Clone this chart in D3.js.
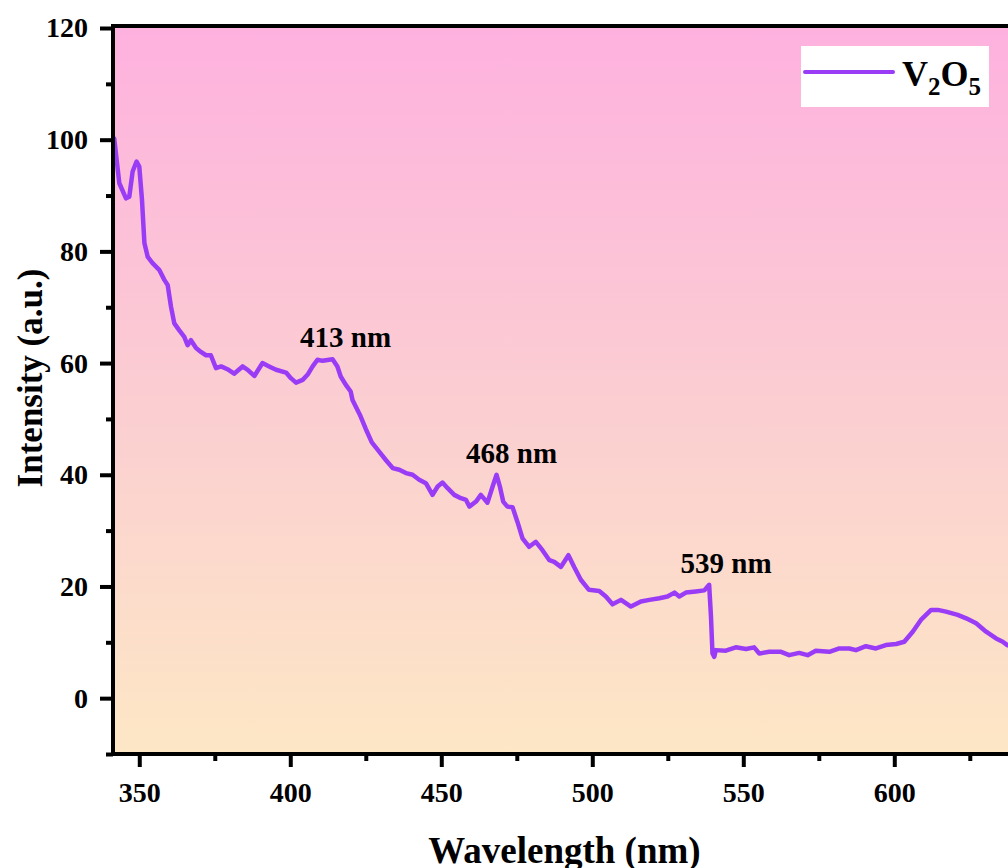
<!DOCTYPE html>
<html>
<head>
<meta charset="utf-8">
<script src="https://cdn.jsdelivr.net/npm/d3@7"></script>
<style>
  html, body { margin: 0; padding: 0; background: #ffffff; }
  svg { display: block; }
  text { font-family: "Liberation Serif", "Times New Roman", serif; font-weight: bold; fill: #000; }
</style>
</head>
<body>
<svg id="chart" width="1008" height="868"></svg>
<script>
// Absorbance spectrum of V2O5 (wavelength in nm, intensity in a.u.)
const wavelength = [
  341.7, 343.4, 345.6, 346.7, 347.8, 349.1, 350.0, 350.9, 351.7, 352.8,
  354.4, 356.6, 358.3, 359.4, 360.5, 361.6, 363.2, 364.9, 366.0, 367.1,
  368.8, 370.4, 372.1, 373.7, 375.4, 377.1, 379.2, 381.4, 384.2, 385.9,
  388.1, 390.8, 393.0, 395.3, 398.6, 400.2, 401.9, 404.1, 405.7, 407.4,
  409.0, 410.7, 412.9, 414.0, 415.6, 416.7, 418.4, 420.0, 420.6, 423.0,
  425.0, 427.0, 429.5, 431.7, 433.9, 436.1, 438.3, 440.5, 442.7, 444.9,
  447.1, 448.8, 450.4, 452.1, 454.3, 456.5, 458.2, 459.3, 461.5, 463.1,
  465.3, 467.0, 468.3, 469.4, 470.5, 471.9, 473.6, 475.2, 476.9, 479.1,
  481.3, 483.5, 485.8, 487.4, 489.6, 492.1, 494.0, 496.2, 498.9, 502.3,
  504.5, 506.7, 509.5, 512.8, 516.1, 518.9, 522.2, 524.9, 527.2, 528.8,
  531.0, 534.3, 537.1, 538.7, 539.3, 539.8, 540.4, 540.9, 544.2, 547.5,
  550.9, 553.6, 555.3, 558.6, 562.5, 565.2, 568.5, 571.3, 574.0, 578.5,
  581.8, 585.1, 587.3, 590.6, 593.9, 597.2, 600.6, 603.3, 606.1, 608.8,
  612.2, 614.4, 617.1, 621.0, 623.8, 627.1, 630.4, 633.7, 635.9, 637.4,
  639.5
];
const intensity = [
  100.2, 92.2, 89.5, 89.8, 94.3, 96.1, 95.2, 89.2, 81.5, 79.0,
  77.9, 76.7, 74.9, 74.0, 70.1, 67.1, 65.9, 64.7, 63.2, 64.1,
  62.7, 62.0, 61.4, 61.4, 59.1, 59.4, 58.9, 58.1, 59.4, 58.8,
  57.7, 60.0, 59.4, 58.8, 58.3, 57.3, 56.5, 57.0, 57.9, 59.4,
  60.6, 60.4, 60.6, 60.7, 59.4, 57.6, 56.1, 54.9, 53.4, 50.8,
  48.2, 45.8, 44.1, 42.6, 41.2, 40.9, 40.3, 40.0, 39.1, 38.5,
  36.4, 37.9, 38.6, 37.6, 36.4, 35.8, 35.5, 34.3, 35.2, 36.4,
  35.0, 37.9, 40.0, 37.9, 35.2, 34.3, 34.2, 31.6, 28.6, 27.1,
  28.0, 26.5, 24.7, 24.4, 23.5, 25.6, 23.5, 21.2, 19.4, 19.2,
  18.2, 16.8, 17.6, 16.4, 17.3, 17.6, 17.9, 18.2, 18.9, 18.2,
  18.9, 19.1, 19.3, 20.3, 14.6, 8.0, 7.4, 8.6, 8.5, 9.1,
  8.8, 9.1, 8.0, 8.3, 8.3, 7.7, 8.1, 7.7, 8.5, 8.3,
  8.9, 8.9, 8.6, 9.3, 8.9, 9.5, 9.7, 10.1, 11.9, 14.0,
  15.8, 15.8, 15.5, 14.9, 14.3, 13.4, 11.9, 10.7, 10.1, 9.5,
  9.2
];

// Marked absorption bands
const peakWavelengths = [413, 468, 539];
const peakIntensities = [60.7, 40.0, 20.3];
const peakLabels = ["413 nm", "468 nm", "539 nm"];

const xTicks = [350, 400, 450, 500, 550, 600];
const xMinorTicks = [375, 425, 475, 525, 575, 625];
const yTicks = [0, 20, 40, 60, 80, 100, 120];
const yMinorTicks = [-10, 10, 30, 50, 70, 90, 110];

const seriesName = ["V", "2", "O", "5"];
const xTitle = "Wavelength (nm)";
const yTitle = "Intensity (a.u.)";

const data = wavelength.map((w, i) => ({ w, v: intensity[i] }));

const plot = { left: 113, right: 1016, top: 27, bottom: 754 };
const x = d3.scaleLinear().domain([341.3, 640.3]).range([plot.left, plot.right]);
const y = d3.scaleLinear().domain([-10, 120]).range([plot.bottom, plot.top + 1]);

const svg = d3.select("#chart");
const defs = svg.append("defs");
const grad = defs.append("linearGradient")
  .attr("id", "bg").attr("x1", 0).attr("y1", 0).attr("x2", 0).attr("y2", 1);
grad.append("stop").attr("offset", "0%").attr("stop-color", "#feb1df");
grad.append("stop").attr("offset", "50%").attr("stop-color", "#fbcdd2");
grad.append("stop").attr("offset", "100%").attr("stop-color", "#fde7c5");

defs.append("clipPath").attr("id", "clip")
  .append("rect")
  .attr("x", plot.left).attr("y", plot.top)
  .attr("width", plot.right - plot.left).attr("height", plot.bottom - plot.top);

// plot background
svg.append("rect")
  .attr("x", plot.left).attr("y", plot.top)
  .attr("width", plot.right - plot.left).attr("height", plot.bottom - plot.top)
  .attr("fill", "url(#bg)");

// spectrum
const line = d3.line().x(d => x(d.w)).y(d => y(d.v));
svg.append("path")
  .datum(data)
  .attr("clip-path", "url(#clip)")
  .attr("fill", "none")
  .attr("stroke", "#9a3cf6")
  .attr("stroke-width", 4.5)
  .attr("stroke-linejoin", "round")
  .attr("stroke-linecap", "round")
  .attr("d", line);

// axes
const xAxis = d3.axisBottom(x).tickValues(xTicks).tickSize(13).tickPadding(15).tickFormat(d3.format("d"));
const xMinor = d3.axisBottom(x).tickValues(xMinorTicks).tickSize(7).tickFormat("");
const yAxis = d3.axisLeft(y).tickValues(yTicks).tickSize(13).tickPadding(12).tickFormat(d3.format("d"));
const yMinor = d3.axisLeft(y).tickValues(yMinorTicks).tickSize(7).tickFormat("");

function styleAxis(g) {
  g.select(".domain").remove();
  g.selectAll(".tick line").attr("stroke", "#000").attr("stroke-width", 4);
  g.selectAll(".tick text").style("font-size", "28px").attr("fill", "#000");
}

svg.append("g").attr("transform", `translate(0,${plot.bottom})`).call(xAxis).call(styleAxis);
svg.append("g").attr("transform", `translate(0,${plot.bottom})`).call(xMinor).call(styleAxis);
svg.append("g").attr("transform", `translate(${plot.left},0)`).call(yAxis).call(styleAxis);
svg.append("g").attr("transform", `translate(${plot.left},0)`).call(yMinor).call(styleAxis);

// frame
svg.append("rect")
  .attr("x", plot.left).attr("y", plot.top - 1)
  .attr("width", plot.right - plot.left).attr("height", plot.bottom - plot.top + 1)
  .attr("fill", "none").attr("stroke", "#000").attr("stroke-width", 4);

// axis titles
svg.append("text")
  .attr("x", (plot.left + plot.right) / 2).attr("y", 863)
  .attr("text-anchor", "middle").style("font-size", "37px")
  .text(xTitle);
svg.append("text")
  .attr("transform", `translate(42,378) rotate(-90)`)
  .attr("text-anchor", "middle").style("font-size", "35px")
  .text(yTitle);

// peak labels
svg.selectAll(".peak")
  .data(peakWavelengths)
  .join("text")
  .attr("class", "peak")
  .attr("x", (d) => x(d) + 16)
  .attr("y", (d, i) => y(peakIntensities[i]) - 12)
  .attr("text-anchor", "middle")
  .style("font-size", "29px")
  .text((d, i) => peakLabels[i]);

// legend
const lg = svg.append("g");
lg.append("rect").attr("x", 801).attr("y", 46).attr("width", 188).attr("height", 61).attr("fill", "#ffffff");
lg.append("line").attr("x1", 805).attr("x2", 893).attr("y1", 72).attr("y2", 72)
  .attr("stroke", "#9a3cf6").attr("stroke-width", 4).attr("stroke-linecap", "round");
const lt = lg.append("text").attr("x", 902).attr("y", 86).style("font-size", "36px");
seriesName.forEach((s, i) => {
  const sub = i % 2 === 1;
  lt.append("tspan")
    .attr("dy", sub ? 9 : (i === 0 ? 0 : -9))
    .style("font-size", sub ? "25px" : "36px")
    .text(s);
});
</script>
</body>
</html>
